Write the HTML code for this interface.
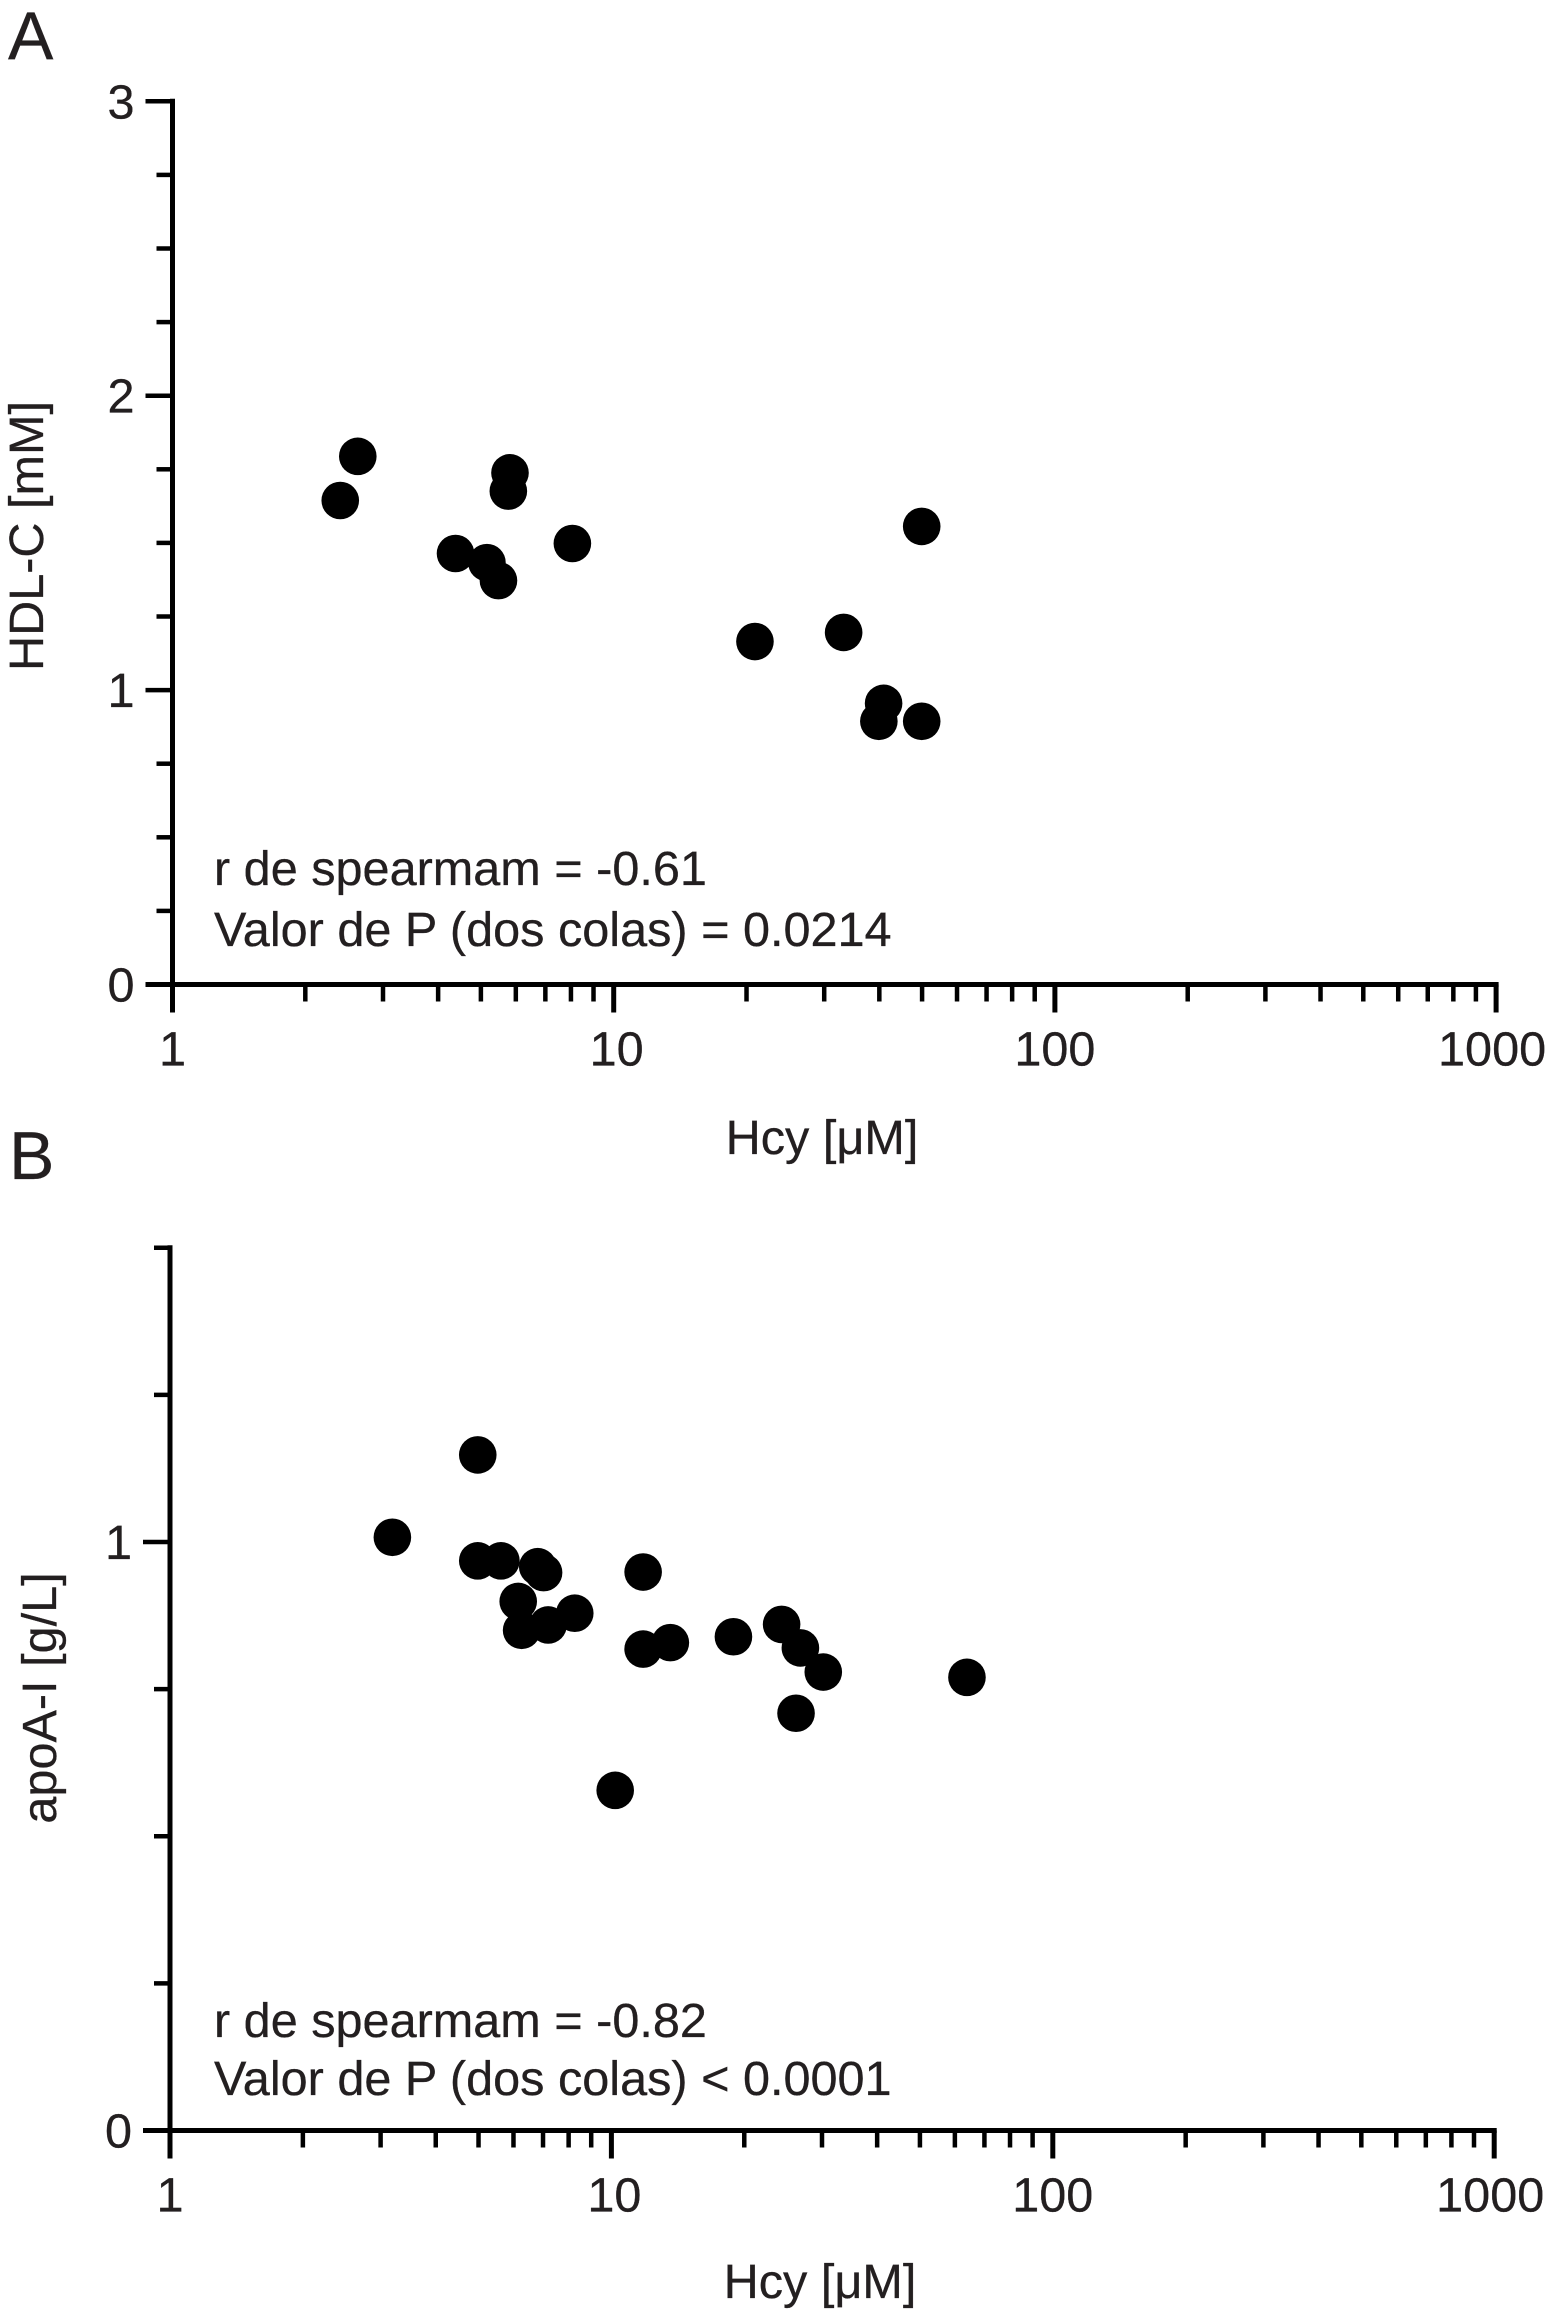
<!DOCTYPE html>
<html lang="es">
<head>
<meta charset="utf-8">
<title>HDL-C and apoA-I vs Hcy</title>
<style>
  html, body { margin: 0; padding: 0; background: #fff; }
  svg { display: block; }
  text { font-family: "Liberation Sans", sans-serif; font-size: 48.6px; fill: #231f20; stroke: #231f20; stroke-width: 0.3px; }
  .panel-letter { font-size: 68px; }
</style>
</head>
<body>
<svg id="figure" xmlns="http://www.w3.org/2000/svg" width="1546" height="2311" viewBox="0 0 1546 2311">
  <rect width="1546" height="2311" fill="#fff"/>
  <text class="panel-letter" x="8" y="59">A</text>
  <text class="panel-letter" x="9" y="1179">B</text>

  <g id="panel-a">
    <text transform="translate(43 536) rotate(-90)" text-anchor="middle">HDL-C [mM]</text>
    <text x="822" y="1154" text-anchor="middle">Hcy [μM]</text>
    <text x="214" y="885">r de spearmam = -0.61</text>
    <text x="214" y="946">Valor de P (dos colas) = 0.0214</text>
  </g>

  <g id="panel-b">
    <text transform="translate(56 1698) rotate(-90)" text-anchor="middle">apoA-I [g/L]</text>
    <text x="820" y="2298" text-anchor="middle">Hcy [μM]</text>
    <text x="214" y="2037">r de spearmam = -0.82</text>
    <text x="214" y="2095">Valor de P (dos colas) &lt; 0.0001</text>
  </g>
</svg>

<script>
// Shared x axis (log scale)
const xMajorTicks = [1, 10, 100, 1000];
const xMinorTicks = [2, 3, 4, 5, 6, 7, 8, 9, 20, 30, 40, 50, 60, 70, 80, 90, 200, 300, 400, 500, 600, 700, 800, 900];

// Panel A
const hcyA = [2.63, 2.40, 5.82, 5.77, 4.38, 5.16, 5.48, 8.06, 20.9, 33.2, 49.9, 40.9, 39.9, 49.9];
const hdlA = [1.794, 1.644, 1.738, 1.676, 1.464, 1.433, 1.372, 1.498, 1.165, 1.196, 1.556, 0.955, 0.894, 0.894];
const yMajorTicksA = [0, 1, 2, 3];
const yMinorTicksA = [0.25, 0.5, 0.75, 1.25, 1.5, 1.75, 2.25, 2.5, 2.75];

// Panel B
const hcyB = [4.98, 3.19, 4.98, 5.62, 6.81, 7.02, 6.15, 6.26, 7.19, 8.26, 11.8, 11.8, 13.6, 18.9, 10.2, 24.3, 26.8, 30.2, 26.2, 63.9];
const apoB = [1.148, 1.008, 0.968, 0.968, 0.958, 0.948, 0.899, 0.850, 0.859, 0.879, 0.949, 0.818, 0.829, 0.839, 0.578, 0.860, 0.820, 0.779, 0.709, 0.770];
const yMajorTicksB = [0, 1];
const yMinorTicksB = [0.25, 0.5, 0.75, 1.25, 1.5];

const SVG_NS = 'http://www.w3.org/2000/svg';

function addLine(parent, x1, y1, x2, y2, width, name) {
  const el = document.createElementNS(SVG_NS, 'line');
  el.setAttribute('x1', x1);
  el.setAttribute('y1', y1);
  el.setAttribute('x2', x2);
  el.setAttribute('y2', y2);
  el.setAttribute('stroke', '#000');
  el.setAttribute('stroke-width', width);
  
  
  parent.appendChild(el);
}

function addLabel(parent, x, y, anchor, content, name) {
  const el = document.createElementNS(SVG_NS, 'text');
  el.setAttribute('x', x);
  el.setAttribute('y', y);
  el.setAttribute('text-anchor', anchor);
  
  
  el.textContent = content;
  parent.appendChild(el);
}

function drawPanel(cfg) {
  const g = document.getElementById(cfg.id);
  const xScale = function (v) { return cfg.x1 + Math.log10(v) * cfg.decade; };
  const yScale = function (v) { return cfg.y0 - v * cfg.unit; };
  const xEnd = xScale(1000);
  const yTop = yScale(cfg.yMax);

  // Axis lines
  addLine(g, cfg.x1, yTop - 2.5, cfg.x1, cfg.y0 + 28, 5, 'y-axis-line');
  addLine(g, cfg.x1 - 27, cfg.y0, xEnd + 2.5, cfg.y0, 5, 'x-axis-line');

  // Y ticks
  cfg.yMajor.forEach(function (v) {
    addLine(g, cfg.x1 - 27, yScale(v), cfg.x1, yScale(v), 4.5, 'y-major-tick');
    addLabel(g, cfg.x1 - 38, yScale(v) + 17, 'end', String(v), 'y-tick-label');
  });
  cfg.yMinor.forEach(function (v) {
    addLine(g, cfg.x1 - 16, yScale(v), cfg.x1, yScale(v), 4.5, 'y-minor-tick');
  });

  // X ticks
  xMajorTicks.forEach(function (v) {
    addLine(g, xScale(v), cfg.y0, xScale(v), cfg.y0 + 28, 5, 'x-major-tick');
    const dx = v === 10 ? 3 : (v === 1000 ? -4 : 0);
    addLabel(g, xScale(v) + dx, cfg.y0 + 81, 'middle', String(v), 'x-tick-label');
  });
  xMinorTicks.forEach(function (v) {
    addLine(g, xScale(v), cfg.y0, xScale(v), cfg.y0 + 17, 4.5, 'x-minor-tick');
  });

  // Data points
  cfg.xs.forEach(function (xv, i) {
    const c = document.createElementNS(SVG_NS, 'circle');
    c.setAttribute('cx', xScale(xv));
    c.setAttribute('cy', yScale(cfg.ys[i]));
    c.setAttribute('r', 18.8);
    c.setAttribute('fill', '#000');
    
    
    g.appendChild(c);
  });
}

drawPanel({
  id: 'panel-a', x1: 172.5, decade: 441.2, y0: 984.5, unit: 294.4, yMax: 3,
  yMajor: yMajorTicksA, yMinor: yMinorTicksA, xs: hcyA, ys: hdlA
});
drawPanel({
  id: 'panel-b', x1: 170, decade: 441.4, y0: 2130.5, unit: 588.5, yMax: 1.5,
  yMajor: yMajorTicksB, yMinor: yMinorTicksB, xs: hcyB, ys: apoB
});
</script>
</body>
</html>
